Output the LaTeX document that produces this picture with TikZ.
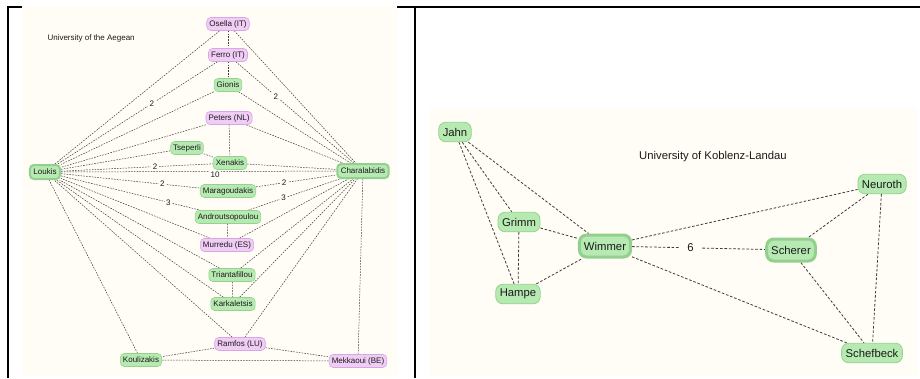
\documentclass[tikz,border=0pt]{standalone}
\usepackage{fontspec}
\setmainfont{Liberation Sans}
\usetikzlibrary{backgrounds}
\definecolor{cream}{HTML}{FFFDF5}
\definecolor{gfill}{HTML}{B7EAB2}
\definecolor{gline}{HTML}{93D38E}
\definecolor{gthick}{HTML}{93CF8E}
\definecolor{pfill}{HTML}{F0CDF5}
\definecolor{pline}{HTML}{D8A5E5}
\definecolor{edgec}{HTML}{3C3C3C}
\definecolor{txt}{HTML}{1A1A1A}
\tikzset{
  sfont/.style={font=\fontsize{8}{9}\selectfont},
  lfont/.style={font=\fontsize{11.3}{13}\selectfont},
  sbox/.style={sfont, text=txt, rounded corners=4, inner xsep=2.6, inner ysep=0pt, minimum height=13, line width=0.6},
  gs/.style={sbox, draw=gline, fill=gfill},
  gst/.style={sbox, draw=gthick, fill=gfill, line width=2, minimum height=14, inner xsep=3.5},
  ps/.style={sbox, draw=pline, fill=pfill},
  lbox/.style={lfont, text=txt, rounded corners=7, inner xsep=4, inner ysep=0pt, minimum height=19.5, line width=0.8, draw=gline, fill=gfill},
  lboxt/.style={lbox, draw=gthick, line width=3, minimum height=22, inner xsep=4.5},
  sedge/.style={draw=edgec, line width=0.5, dash pattern=on 1.6 off 1.2},
  ledge/.style={draw=edgec, line width=0.8, dash pattern=on 2.6 off 1.8},
  slab/.style={sfont, text=txt, fill=cream, inner sep=1.5},
  llab/.style={lfont, text=txt, fill=cream, inner xsep=7, inner ysep=1},
}
\begin{document}
\begin{tikzpicture}[x=1pt,y=-1pt]
\useasboundingbox (0,0) rectangle (920,378);

% ---------- left diagram ----------
\node[sfont, text=txt, anchor=west] (t1) at (44,38) {University of the Aegean};
\node[ps] (osella) at (228,24) {Osella (IT)};
\node[ps] (ferro) at (228,55) {Ferro (IT)};
\node[gs] (gionis) at (228,85) {Gionis};
\node[ps] (peters) at (229,118) {Peters (NL)};
\node[gs] (tseperli) at (187,148) {Tseperli};
\node[gs] (xenakis) at (230,163) {Xenakis};
\node[gst] (loukis) at (45,172) {Loukis};
\node[gst] (chara) at (363,171) {Charalabidis};
\node[gs] (marag) at (228,191) {Maragoudakis};
\node[gs] (androut) at (228,217) {Androutsopoulou};
\node[ps] (murredu) at (227,245) {Murredu (ES)};
\node[gs] (triant) at (232,275) {Triantafillou};
\node[gs] (karka) at (233,304) {Karkaletsis};
\node[ps] (ramfos) at (240,344) {Ramfos (LU)};
\node[gs] (kouli) at (141,360) {Koulizakis};
\node[ps] (mekk) at (358,361) {Mekkaoui (BE)};

% ---------- right diagram ----------
\node[lfont, text=txt] (t2) at (713,157) {University of Koblenz-Landau};
\node[lbox] (jahn) at (455,132) {Jahn};
\node[lbox] (neuroth) at (882,184) {Neuroth};
\node[lbox] (grimm) at (519,222) {Grimm};
\node[lboxt] (wimmer) at (605,246) {Wimmer};
\node[lboxt] (scherer) at (791,250) {Scherer};
\node[lbox] (hampe) at (518,294) {Hampe};
\node[lbox] (schef) at (872,353) {Schefbeck};

\begin{scope}[on background layer]
\fill[white] (0,0) rectangle (920,378);
\fill[cream] (22,6) rectangle (397,377);
\fill[cream] (429,107) rectangle (917,377);
% left edges
\draw[sedge] (osella) -- (ferro);
\draw[sedge] (osella) -- (loukis);
\draw[sedge] (osella) -- (chara);
\draw[sedge] (ferro) -- (gionis);
\draw[sedge] (ferro) -- node[slab, pos=0.41]{2} (loukis);
\draw[sedge] (ferro) -- node[slab, pos=0.34]{2} (chara);
\draw[sedge] (gionis) -- (loukis);
\draw[sedge] (gionis) -- (chara);
\draw[sedge] (peters) -- (xenakis);
\draw[sedge] (peters) -- (loukis);
\draw[sedge] (peters) -- (chara);
\draw[sedge] (tseperli) -- (xenakis);
\draw[sedge] (tseperli) -- (loukis);
\draw[sedge] (loukis) -- node[slab, pos=0.62]{2} (xenakis);
\draw[sedge] (xenakis) -- (chara);
\draw[sedge] (loukis) -- node[slab, pos=0.56, yshift=-3.5pt]{10} (chara);
\draw[sedge] (loukis) -- node[slab, pos=0.73]{2} (marag);
\draw[sedge] (marag) -- node[slab, pos=0.35]{2} (chara);
\draw[sedge] (loukis) -- node[slab, pos=0.77]{3} (androut);
\draw[sedge] (androut) -- node[slab, pos=0.39]{3} (chara);
\draw[sedge] (androut) -- (murredu);
\draw[sedge] (murredu) -- (loukis);
\draw[sedge] (murredu) -- (chara);
\draw[sedge] (triant) -- (loukis);
\draw[sedge] (triant) -- (chara);
\draw[sedge] (triant) -- (karka);
\draw[sedge] (karka) -- (loukis);
\draw[sedge] (karka) -- (chara);
\draw[sedge] (ramfos) -- (loukis);
\draw[sedge] (ramfos) -- (chara);
\draw[sedge] (ramfos) -- (kouli);
\draw[sedge] (ramfos) -- (mekk);
\draw[sedge] (kouli) -- (loukis);
\draw[sedge] (kouli) -- (mekk);
\draw[sedge] (chara) -- (mekk);
% right edges
\draw[ledge] (jahn) -- (grimm);
\draw[ledge] (jahn) -- (hampe);
\draw[ledge] (jahn) -- (wimmer);
\draw[ledge] (grimm) -- (wimmer);
\draw[ledge] (grimm) -- (hampe);
\draw[ledge] (hampe) -- (wimmer);
\draw[ledge] (wimmer) -- (neuroth);
\draw[ledge] (wimmer) -- node[llab, pos=0.44]{6} (scherer);
\draw[ledge] (wimmer) -- (schef);
\draw[ledge] (neuroth) -- (scherer);
\draw[ledge] (neuroth) -- (schef);
\draw[ledge] (scherer) -- (schef);
\end{scope}
\draw[line width=2] (7.5,378) -- (7.5,6.5) -- (22,6.5);
\draw[line width=2] (397,6.5) -- (920,6.5);
\draw[line width=2] (414.5,6.5) -- (414.5,378);
\end{tikzpicture}
\end{document}
